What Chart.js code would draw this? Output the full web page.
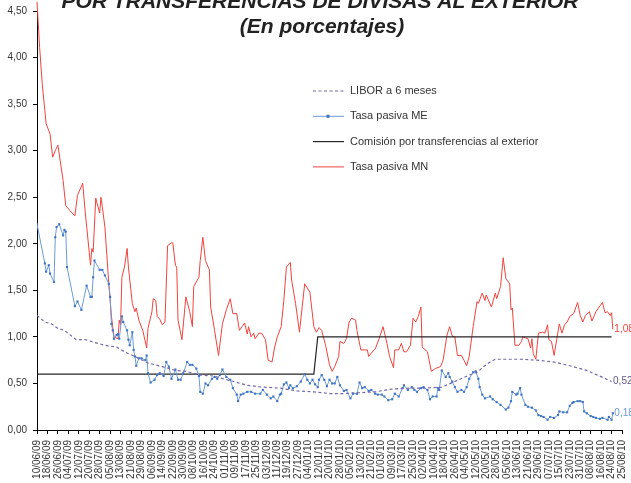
<!DOCTYPE html>
<html lang="es">
<head>
<meta charset="utf-8">
<title>Comisión por transferencias de divisas al exterior</title>
<script src="https://cdn.jsdelivr.net/npm/chart.js@4.4.1/dist/chart.umd.min.js"></script>
<style>
    html, body { margin: 0; padding: 0; background: #fff; }
    #wrap { width: 631px; height: 483px; }
</style>
</head>
<body>
<div id="wrap"><canvas id="chart" width="631" height="483"></canvas></div>
<script>
// Axis labels, one every 8 days (x values below are days since 10/06/09)
const tickLabels = [
    '10/06/09', '18/06/09', '26/06/09', '04/07/09', '12/07/09', '20/07/09', '28/07/09',
    '05/08/09', '13/08/09', '21/08/09', '29/08/09', '06/09/09', '14/09/09', '22/09/09',
    '30/09/09', '08/10/09', '16/10/09', '24/10/09', '01/11/09', '09/11/09', '17/11/09',
    '25/11/09', '03/12/09', '11/12/09', '19/12/09', '27/12/09', '04/01/10', '12/01/10',
    '20/01/10', '28/01/10', '05/02/10', '13/02/10', '21/02/10', '01/03/10', '09/03/10',
    '17/03/10', '25/03/10', '02/04/10', '10/04/10', '18/04/10', '26/04/10', '04/05/10',
    '12/05/10', '20/05/10', '28/05/10', '05/06/10', '13/06/10', '21/06/10', '29/06/10',
    '07/07/10', '15/07/10', '23/07/10', '31/07/10', '08/08/10', '16/08/10', '24/08/10',
    '25/08/10'
];

const seriesNames = [
    'LIBOR a 6 meses',
    'Tasa pasiva ME',
    'Comisión por transferencias al exterior',
    'Tasa pasiva MN'
];

const endLabels = ['0,52', '0,18', '', '1,08'];

// [day, %]
const liborRates = [
    [0, 1.23], [6, 1.16], [11, 1.14], [16, 1.09], [21, 1.07], [30, 0.97], [37, 0.97],
    [44, 0.94], [52, 0.91], [61, 0.89], [67, 0.84], [75, 0.79], [85, 0.72], [96, 0.68],
    [106, 0.64], [114, 0.63], [125, 0.59], [135, 0.58], [148, 0.53], [161, 0.48],
    [173, 0.46], [186, 0.45], [199, 0.42], [212, 0.41], [225, 0.39], [233, 0.39],
    [246, 0.40], [259, 0.41], [272, 0.44], [285, 0.45], [297, 0.45], [310, 0.46],
    [323, 0.54], [331, 0.59], [337, 0.62], [342, 0.68], [347, 0.73], [351, 0.76],
    [359, 0.76], [370, 0.76], [383, 0.75], [396, 0.73], [408, 0.69], [421, 0.64],
    [434, 0.56], [440, 0.52]
];

const meRates = [
    [0, 2.21], [6, 1.79], [7, 1.70], [9, 1.77], [10, 1.68], [13, 1.59], [14, 2.07], [15, 2.18],
    [17, 2.21], [20, 2.09], [21, 2.15], [22, 2.13], [23, 1.75], [29, 1.33], [31, 1.38], [34, 1.29],
    [38, 1.55], [41, 1.43], [42, 1.43], [43, 1.64], [44, 1.82], [48, 1.72], [50, 1.72], [52, 1.66],
    [55, 1.57], [56, 1.43], [57, 1.14], [58, 1.07], [59, 0.98], [61, 1.02], [62, 1.03], [63, 0.98],
    [65, 1.22], [66, 1.16], [69, 1.07], [70, 0.97], [71, 0.91], [73, 1.05], [74, 0.86], [75, 0.79],
    [76, 0.69], [78, 0.77], [80, 0.77], [83, 0.75], [84, 0.80], [85, 0.61], [87, 0.51], [90, 0.54],
    [92, 0.59], [94, 0.61], [97, 0.58], [99, 0.73], [101, 0.68], [103, 0.55], [106, 0.65], [108, 0.54],
    [110, 0.54], [112, 0.61], [115, 0.73], [117, 0.70], [119, 0.70], [122, 0.66], [124, 0.58],
    [125, 0.41], [127, 0.39], [129, 0.50], [131, 0.48], [134, 0.55], [136, 0.57], [138, 0.55],
    [140, 0.59], [142, 0.65], [145, 0.57], [148, 0.54], [150, 0.45], [153, 0.38], [154, 0.31],
    [156, 0.38], [158, 0.39], [161, 0.41], [164, 0.41], [167, 0.39], [171, 0.39], [173, 0.43],
    [176, 0.38], [179, 0.34], [181, 0.36], [184, 0.31], [186, 0.38], [187, 0.39], [189, 0.49],
    [191, 0.51], [193, 0.45], [194, 0.48], [196, 0.45], [199, 0.47], [202, 0.52], [205, 0.60],
    [207, 0.54], [209, 0.50], [211, 0.54], [213, 0.49], [215, 0.46], [216, 0.54], [218, 0.59],
    [220, 0.54], [222, 0.47], [224, 0.54], [226, 0.50], [228, 0.50], [230, 0.57], [232, 0.48],
    [235, 0.42], [237, 0.43], [240, 0.34], [242, 0.39], [245, 0.39], [247, 0.51], [249, 0.45],
    [251, 0.46], [254, 0.42], [256, 0.43], [259, 0.39], [261, 0.38], [264, 0.38], [266, 0.36],
    [269, 0.32], [272, 0.33], [274, 0.39], [277, 0.36], [280, 0.45], [281, 0.48], [284, 0.43],
    [287, 0.46], [289, 0.43], [291, 0.41], [294, 0.45], [296, 0.46], [299, 0.43], [301, 0.33],
    [303, 0.36], [306, 0.36], [307, 0.45], [308, 0.43], [310, 0.64], [313, 0.57], [315, 0.61],
    [316, 0.57], [318, 0.52], [320, 0.46], [322, 0.41], [325, 0.43], [327, 0.41], [329, 0.46],
    [331, 0.55], [334, 0.62], [336, 0.63], [338, 0.55], [339, 0.46], [341, 0.38], [343, 0.34],
    [347, 0.36], [349, 0.33], [352, 0.30], [355, 0.27], [359, 0.22], [361, 0.24], [363, 0.31],
    [364, 0.41], [367, 0.38], [368, 0.39], [370, 0.45], [371, 0.38], [374, 0.27], [376, 0.25],
    [379, 0.24], [382, 0.21], [384, 0.16], [386, 0.15], [388, 0.14], [391, 0.11], [393, 0.14],
    [396, 0.13], [399, 0.16], [400, 0.20], [403, 0.19], [406, 0.19], [408, 0.26], [410, 0.29],
    [411, 0.30], [414, 0.31], [416, 0.31], [418, 0.30], [419, 0.20], [421, 0.18], [424, 0.15],
    [426, 0.14], [428, 0.13], [431, 0.12], [433, 0.13], [437, 0.11], [438, 0.14], [440, 0.11],
    [441, 0.18]
];

const feeRates = [[0, 0.60], [212, 0.60], [215, 1.00], [440, 1.00]];

const mnRates = [
    [0, 4.60], [2, 4.11], [4, 3.72], [6, 3.43], [7, 3.29], [10, 3.18], [12, 2.93], [14, 3.00],
    [16, 3.06], [20, 2.68], [22, 2.41], [25, 2.36], [29, 2.30], [31, 2.52], [35, 2.65], [37, 2.33],
    [41, 1.77], [42, 1.95], [43, 1.91], [45, 2.49], [48, 2.33], [49, 2.50], [50, 2.40], [52, 2.18],
    [55, 1.57], [57, 1.22], [59, 1.00], [62, 0.98], [63, 1.18], [64, 1.13], [65, 1.64], [67, 1.75],
    [69, 1.95], [70, 1.75], [73, 1.36], [75, 1.27], [76, 1.31], [78, 1.18], [81, 1.07], [84, 0.88],
    [85, 1.09], [88, 1.27], [89, 1.41], [91, 1.39], [92, 1.22], [94, 1.19], [96, 1.13], [98, 1.16],
    [100, 1.98], [103, 2.01], [104, 2.01], [106, 1.77], [107, 1.75], [108, 1.18], [111, 0.97],
    [114, 1.43], [117, 1.27], [119, 1.11], [120, 1.54], [124, 1.64], [125, 1.82], [127, 2.07],
    [129, 1.82], [132, 1.72], [133, 1.32], [136, 1.07], [139, 0.80], [142, 1.14], [145, 1.29],
    [148, 1.41], [150, 1.25], [153, 1.25], [155, 1.07], [157, 1.11], [159, 1.15], [161, 1.03],
    [162, 1.11], [164, 1.00], [166, 1.04], [167, 0.98], [170, 1.04], [172, 1.04], [175, 0.97],
    [177, 0.75], [180, 0.73], [182, 0.89], [184, 1.00], [187, 1.11], [189, 1.39], [191, 1.75],
    [194, 1.80], [195, 1.61], [198, 1.36], [201, 1.05], [205, 1.57], [209, 1.48], [212, 1.11],
    [214, 1.05], [216, 1.10], [218, 1.07], [221, 0.91], [224, 0.70], [226, 0.63], [228, 0.68],
    [231, 0.79], [232, 0.95], [235, 0.93], [237, 0.98], [239, 1.16], [241, 1.20], [244, 1.18],
    [245, 1.07], [248, 0.86], [253, 0.86], [254, 0.79], [258, 0.86], [259, 0.87], [262, 0.98],
    [265, 1.11], [268, 0.93], [270, 0.79], [273, 0.67], [274, 0.86], [277, 0.86], [279, 0.93],
    [281, 0.84], [283, 0.84], [286, 0.91], [288, 1.20], [290, 1.16], [292, 1.22], [294, 1.32],
    [295, 0.89], [299, 0.84], [302, 0.63], [305, 0.66], [309, 0.68], [311, 0.75], [314, 1.02],
    [316, 1.11], [318, 1.01], [320, 1.00], [322, 0.80], [325, 0.80], [327, 0.75], [329, 0.69],
    [331, 0.79], [334, 1.11], [337, 1.38], [338, 1.36], [341, 1.47], [343, 1.39], [344, 1.45],
    [348, 1.32], [351, 1.47], [352, 1.41], [355, 1.54], [357, 1.85], [359, 1.63], [362, 1.57],
    [363, 1.29], [364, 1.31], [366, 0.91], [369, 0.91], [371, 0.95], [372, 1.00], [374, 0.99],
    [376, 0.98], [378, 0.88], [379, 0.98], [380, 0.82], [382, 0.76], [384, 1.04], [387, 1.05],
    [389, 1.04], [391, 1.13], [392, 0.97], [394, 0.95], [396, 0.80], [398, 0.97], [400, 1.14],
    [402, 1.04], [404, 1.13], [406, 1.16], [408, 1.22], [411, 1.25], [414, 1.37], [416, 1.23],
    [418, 1.16], [420, 1.23], [423, 1.27], [425, 1.17], [428, 1.27], [430, 1.31], [433, 1.37],
    [435, 1.26], [437, 1.27], [439, 1.23], [440, 1.26], [441, 1.08]
];

const FONT = '"Liberation Sans", Arial, sans-serif';
const toPoints = rows => rows.map(r => ({ x: r[0], y: r[1] }));
const fmt = v => v.toFixed(2).replace('.', ',');

// Title (partly cut at the top, as in the source) and subtitle
const titlePlugin = {
    id: 'titles',
    afterDraw(chart) {
        const ctx = chart.ctx;
        ctx.save();
        ctx.fillStyle = '#222';
        ctx.textAlign = 'center';
        ctx.textBaseline = 'alphabetic';
        ctx.font = 'italic bold 21px ' + FONT;
        ctx.fillText('POR TRANSFERENCIAS DE DIVISAS AL EXTERIOR', 320, 8);
        ctx.font = 'italic bold 21px ' + FONT;
        ctx.fillText('(En porcentajes)', 322, 33);
        ctx.restore();
    }
};

// Legend drawn inside the plot, one row per series
const legendPlugin = {
    id: 'insideLegend',
    afterDraw(chart) {
        const ctx = chart.ctx;
        ctx.save();
        ctx.font = '11px ' + FONT;
        ctx.textBaseline = 'middle';
        chart.data.datasets.forEach((ds, i) => {
            const y = 91 + i * 25.3;
            ctx.strokeStyle = ds.borderColor;
            ctx.lineWidth = ds.borderWidth;
            ctx.setLineDash(ds.borderDash || []);
            ctx.beginPath();
            ctx.moveTo(313, y);
            ctx.lineTo(344, y);
            ctx.stroke();
            ctx.setLineDash([]);
            if (ds.pointRadius) {
                ctx.fillStyle = ds.pointBackgroundColor;
                ctx.fillRect(326.5, y - 1.5, 3, 3);
            }
            ctx.fillStyle = '#333';
            ctx.fillText(ds.label, 350, y);
        });
        ctx.restore();
    }
};

// Value of the last point written at the end of each line
const endLabelPlugin = {
    id: 'endLabels',
    afterDatasetsDraw(chart) {
        const ctx = chart.ctx;
        ctx.save();
        ctx.font = '10px ' + FONT;
        ctx.textBaseline = 'middle';
        chart.data.datasets.forEach((ds, i) => {
            if (!endLabels[i]) return;
            const meta = chart.getDatasetMeta(i);
            const last = meta.data[meta.data.length - 1];
            ctx.fillStyle = ds.labelColor;
            ctx.fillText(endLabels[i], last.x + 1.5, last.y);
        });
        ctx.restore();
    }
};

new Chart(document.getElementById('chart'), {
    type: 'line',
    data: {
        datasets: [{
            label: seriesNames[0],
            data: toPoints(liborRates),
            borderColor: '#7468a8',
            labelColor: '#5f5890',
            borderWidth: 1.2,
            borderDash: [3, 2.5],
            pointRadius: 0
        }, {
            label: seriesNames[1],
            data: toPoints(meRates),
            borderColor: '#6b9bd8',
            labelColor: '#6b9bd8',
            borderWidth: 1,
            pointStyle: 'rect',
            pointRadius: 1.5,
            pointBorderWidth: 0,
            pointBackgroundColor: '#3f73c4'
        }, {
            label: seriesNames[2],
            data: toPoints(feeRates),
            borderColor: '#262626',
            borderWidth: 1.2,
            pointRadius: 0
        }, {
            label: seriesNames[3],
            data: toPoints(mnRates),
            borderColor: '#f0433d',
            labelColor: '#f0433d',
            borderWidth: 1,
            pointRadius: 0,
            clip: false
        }]
    },
    options: {
        responsive: false,
        animation: false,
        devicePixelRatio: 1,
        layout: { padding: { top: 11, right: 9, left: 0, bottom: 0 } },
        elements: { line: { tension: 0 } },
        plugins: {
            legend: { display: false },
            title: { display: false },
            tooltip: { enabled: false }
        },
        scales: {
            x: {
                type: 'linear',
                min: 0,
                max: 448,
                border: { color: '#000', width: 1 },
                grid: { drawOnChartArea: false, tickLength: 4, color: '#000' },
                ticks: {
                    stepSize: 8,
                    autoSkip: false,
                    minRotation: 90,
                    maxRotation: 90,
                    padding: 6,
                    color: '#333',
                    font: { family: FONT, size: 10 },
                    callback: v => tickLabels[Math.round(v / 8)]
                },
                afterFit: scale => {
                    scale.height = 53;
                    scale.paddingLeft = 0;
                    scale.paddingRight = 0;
                }
            },
            y: {
                min: 0,
                max: 4.5,
                border: { color: '#000', width: 1 },
                grid: { drawOnChartArea: false, tickLength: 4, color: '#000' },
                ticks: {
                    stepSize: 0.5,
                    padding: 6,
                    color: '#333',
                    font: { family: FONT, size: 10 },
                    callback: v => fmt(v)
                },
                afterFit: scale => {
                    scale.width = 37;
                    scale.paddingTop = 0;
                    scale.paddingBottom = 0;
                }
            }
        }
    },
    plugins: [titlePlugin, legendPlugin, endLabelPlugin]
});
</script>
</body>
</html>
